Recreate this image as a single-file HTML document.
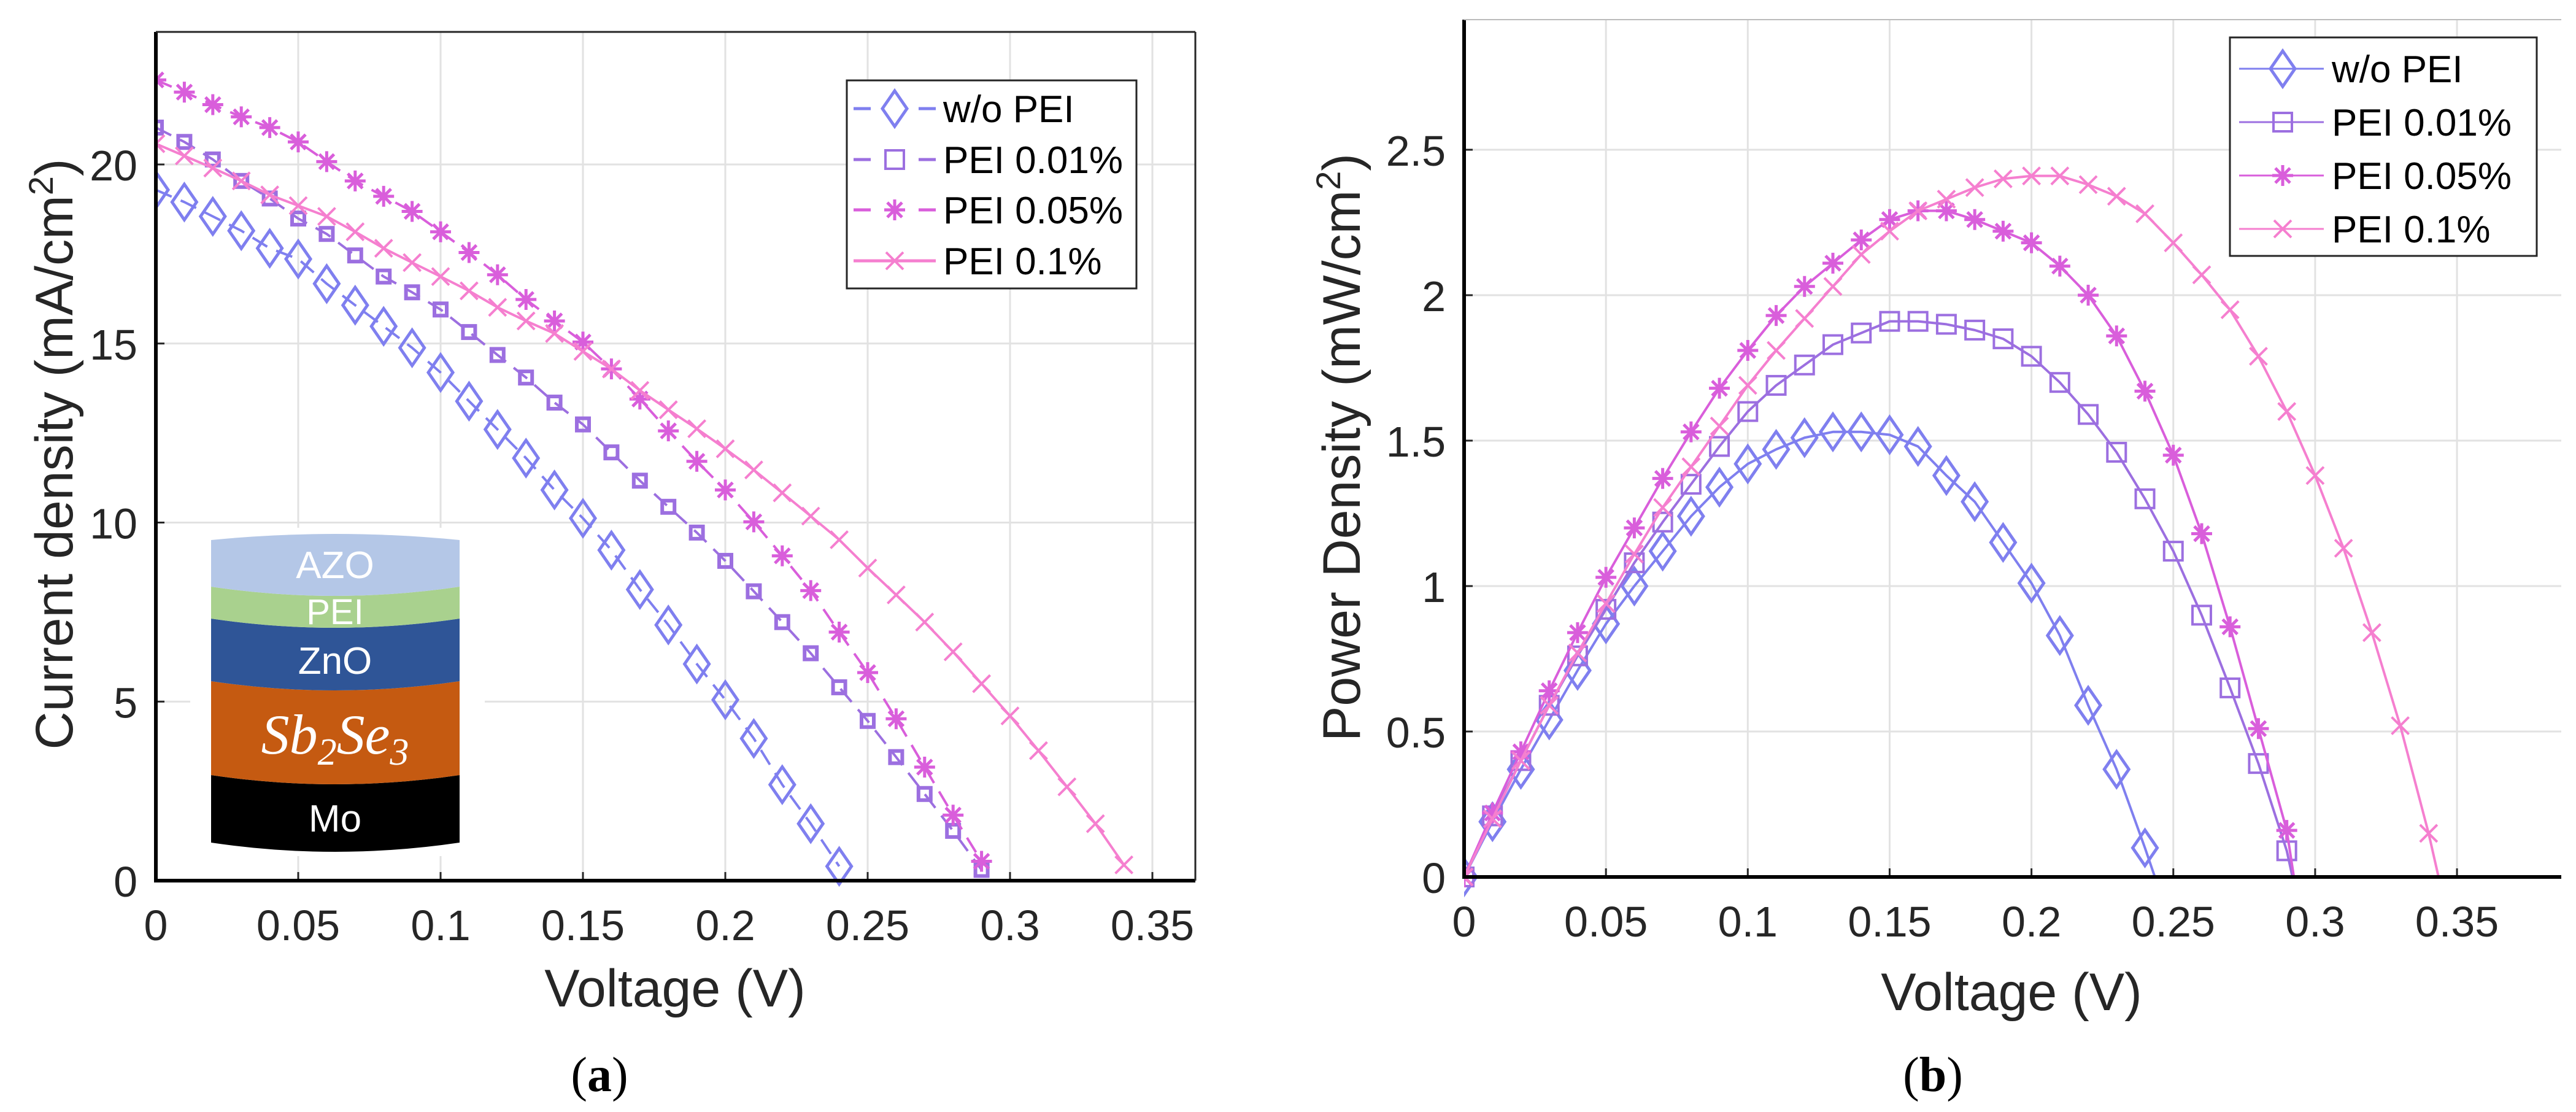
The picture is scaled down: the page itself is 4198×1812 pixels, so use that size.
<!DOCTYPE html>
<html><head><meta charset="utf-8"><style>
html,body{margin:0;padding:0;background:#fff}
svg{display:block;font-family:"Liberation Sans",Arial,sans-serif}
</style></head><body>
<svg id="fig" xmlns="http://www.w3.org/2000/svg" width="4198" height="1812" viewBox="0 0 4198 1812">
<rect width="4198" height="1812" fill="#fff"/>
<g id="pa"></g>
<g id="pb"></g>
</svg>
<script>
const voltA = [0,0.01,0.02,0.03,0.04,0.05,0.06,0.07,0.08,0.09,0.10,0.11,0.12,0.13,0.14,0.15,0.16,0.17,0.18,0.19,0.20,0.21,0.22,0.23,0.24,0.25,0.26,0.27,0.28,0.29,0.30,0.31,0.32,0.33,0.34];
const seriesNames = ["w/o PEI","PEI 0.01%","PEI 0.05%","PEI 0.1%"];
const jWo = [19.29,18.95,18.55,18.15,17.66,17.36,16.67,16.07,15.48,14.88,14.19,13.39,12.6,11.8,10.91,10.12,9.23,8.13,7.14,6.05,5.05,3.97,2.68,1.59,0.4];
const j001 = [21.03,20.63,20.14,19.54,19.05,18.49,18.06,17.46,16.87,16.43,15.95,15.32,14.68,14.05,13.35,12.74,11.96,11.17,10.44,9.72,8.93,8.08,7.22,6.35,5.4,4.46,3.45,2.42,1.39,0.3];
const j005 = [22.36,22.02,21.67,21.33,21.03,20.63,20.08,19.54,19.11,18.69,18.12,17.54,16.92,16.23,15.63,15.04,14.29,13.45,12.56,11.71,10.91,10.02,9.07,8.1,6.94,5.81,4.52,3.17,1.83,0.54];
const j01 = [20.58,20.24,19.9,19.54,19.15,18.85,18.55,18.12,17.66,17.26,16.87,16.47,16.01,15.63,15.28,14.78,14.29,13.69,13.15,12.62,12.06,11.47,10.83,10.18,9.52,8.73,7.98,7.22,6.39,5.5,4.6,3.63,2.62,1.59,0.44];
const pWo = [0,0.19,0.37,0.54,0.71,0.87,1.00,1.12,1.24,1.34,1.42,1.47,1.51,1.53,1.53,1.52,1.48,1.38,1.29,1.15,1.01,0.83,0.59,0.37,0.10];
const p001 = [0,0.21,0.40,0.59,0.76,0.92,1.08,1.22,1.35,1.48,1.60,1.69,1.76,1.83,1.87,1.91,1.91,1.90,1.88,1.85,1.79,1.70,1.59,1.46,1.30,1.12,0.90,0.65,0.39,0.09];
const p005 = [0,0.22,0.43,0.64,0.84,1.03,1.20,1.37,1.53,1.68,1.81,1.93,2.03,2.11,2.19,2.26,2.29,2.29,2.26,2.22,2.18,2.10,2.00,1.86,1.67,1.45,1.18,0.86,0.51,0.16];
const p01 = [0,0.20,0.40,0.59,0.77,0.94,1.11,1.27,1.41,1.55,1.69,1.81,1.92,2.03,2.14,2.22,2.29,2.33,2.37,2.40,2.41,2.41,2.38,2.34,2.28,2.18,2.07,1.95,1.79,1.60,1.38,1.13,0.84,0.52,0.15];
const vocB = [0.2435,0.292,0.2925,0.3435];
const xTicksA = ["0","0.05","0.1","0.15","0.2","0.25","0.3","0.35"];
const yTicksA = ["0","5","10","15","20"];
const yTicksB = ["0","0.5","1","1.5","2","2.5"];

const NS="http://www.w3.org/2000/svg";
function mk(parent,tag,attrs,text){const e=document.createElementNS(NS,tag);for(const k in attrs)e.setAttribute(k,attrs[k]);if(text!==undefined)e.textContent=text;parent.appendChild(e);return e;}
const colors=["#7f7fef","#9c6fe0","#d95edb","#f57fcf"];
const markers=["diamond","square","asterisk","cross"];

function marker(g,type,x,y,col,big){
  let m;
  if(type==="diamond"){const w=big?20:20,h=big?29:29;m=mk(g,"path",{d:`M${x},${y-h}L${x+w},${y}L${x},${y+h}L${x-w},${y}Z`,fill:"none",stroke:col,"stroke-width":5});}
  else if(type==="square"){const s=big?15:10;m=mk(g,"rect",{x:x-s,y:y-s,width:2*s,height:2*s,fill:"none",stroke:col,"stroke-width":big?4:6});}
  else if(type==="asterisk"){const r=17,d=12;m=mk(g,"path",{d:`M${x-r},${y}H${x+r}M${x},${y-r}V${y+r}M${x-d},${y-d}L${x+d},${y+d}M${x-d},${y+d}L${x+d},${y-d}`,stroke:col,"stroke-width":5,fill:"none"});}
  else {const d=14;m=mk(g,"path",{d:`M${x-d},${y-d}L${x+d},${y+d}M${x-d},${y+d}L${x+d},${y-d}`,stroke:col,"stroke-width":4,fill:"none"});}
  
  
}

function axesFrame(g,cfg){
  const {L,R,T,B,xTicks,xStep,yTicks,yStep,sx,sy,boxed}=cfg;
  xTicks.forEach((t,i)=>{const x=sx(i*xStep);
    if(i>0){const gl=mk(g,"line",{x1:x,x2:x,y1:T,y2:B,stroke:"#e2e2e2","stroke-width":3});}
    mk(g,"line",{x1:x,x2:x,y1:B,y2:B-14,stroke:"#262626","stroke-width":3});
    const tl=mk(g,"text",{x:x,y:B+97,"font-size":70,fill:"#262626","text-anchor":"middle"},t);
    });
  yTicks.forEach((t,i)=>{const y=sy(i*yStep);
    if(i>0){const gl=mk(g,"line",{x1:L,x2:R,y1:y,y2:y,stroke:"#e2e2e2","stroke-width":3});}
    mk(g,"line",{x1:L,x2:L+14,y1:y,y2:y,stroke:"#262626","stroke-width":3});
    const tl=mk(g,"text",{x:L-30,y:y+26,"font-size":70,fill:"#262626","text-anchor":"end"},t);
    });
}

function drawPanel(gid,cfg){
  const g=document.getElementById(gid);
  const {L,R,T,B}=cfg;
  const grid=mk(g,"g",{});
  axesFrame(grid,cfg);
  if(cfg.inset) cfg.inset(g);
  const clip=mk(g,"clipPath",{id:gid+"clip"});mk(clip,"rect",{x:L,y:T-40,width:R-L+40,height:B-T+80});
  cfg.series.forEach((s,k)=>{
    const sg=mk(g,"g",{"clip-path":`url(#${gid}clip)`});
    
    
    const pts=s.map((v,i)=>[cfg.sx(voltA[i]),cfg.sy(v)]);
    if(cfg.vocs) pts.push([cfg.sx(cfg.vocs[k]),cfg.sy(0)]);
    const pl=mk(sg,"polyline",{points:pts.map(p=>p.join(",")).join(" "),fill:"none",stroke:colors[k],"stroke-width":cfg.lw,"stroke-dasharray":cfg.dash[k]||"none","stroke-linejoin":"round"});
    
    s.forEach((v,i)=>marker(sg,markers[k],cfg.sx(voltA[i]),cfg.sy(v),colors[k],cfg.big));
  });
  // axes lines
  mk(g,"line",{x1:L,x2:L,y1:T,y2:B+3,stroke:"#000","stroke-width":6});
  mk(g,"line",{x1:L-3,x2:R,y1:B,y2:B,stroke:"#000","stroke-width":6});
  mk(g,"line",{x1:L,x2:R,y1:T,y2:T,stroke:cfg.boxed?"#262626":"#bbb","stroke-width":cfg.boxed?3:2});
  if(cfg.boxed) mk(g,"line",{x1:R,x2:R,y1:T,y2:B,stroke:"#262626","stroke-width":3});
  // legend
  const lg=mk(g,"g",{});
  const lb=cfg.legend;
  mk(lg,"rect",{x:lb.x,y:lb.y,width:lb.w,height:lb.h,fill:"#fff",stroke:"#262626","stroke-width":3});
  seriesNames.forEach((n,k)=>{const y=lb.rows[k];
    const e=mk(lg,"g",{});
    mk(e,"line",{x1:lb.lx1,x2:lb.lx2,y1:y,y2:y,stroke:colors[k],"stroke-width":lb.lw,"stroke-dasharray":cfg.dash[k]?"28,78":"none","stroke-dashoffset":cfg.dash[k]?"0":"0"});
    marker(e,markers[k],lb.mx,y,colors[k],true);
    mk(e,"text",{x:lb.tx,y:y+22,"font-size":62,fill:"#000"},n);
  });
  // axis labels
  const xl=mk(g,"text",{x:cfg.xlab[0],y:cfg.xlab[1],"font-size":86,fill:"#262626","text-anchor":"middle"},"Voltage (V)");
  
  const yl=mk(g,"text",{transform:`translate(${cfg.ylab[0]},${cfg.ylab[1]}) rotate(-90)`,"font-size":86,fill:"#262626","text-anchor":"middle"});
  yl.innerHTML=cfg.ytitle;
  
  const cap=mk(g,"text",{x:cfg.cap[0],y:cfg.cap[1],"font-size":80,fill:"#000","text-anchor":"middle","font-family":"Liberation Serif, serif"});
  cap.innerHTML=cfg.capText;
  
}

function inset(g){
  const ig=mk(g,"g",{});
  mk(ig,"rect",{x:310,y:860,width:480,height:535,fill:"#fff"});
  const x0=344,x1=749,cx=546;
  const layers=[["Mo",1273,1383,"#000"],["Sb2Se3",1120,1273,"#c55a11"],["ZnO",1018,1120,"#2f5597"],["PEI",966,1018,"#a9d18e"],["AZO",874,966,"#b4c7e7"]];
  layers.forEach(([n,t,b,c])=>{
    const top=n==="AZO"?`M${x0},${t+6}Q${cx},${t-14} ${x1},${t+6}`:`M${x0},${t-10}Q${cx},${t+20} ${x1},${t-10}`;
    const p=mk(ig,"path",{d:`${top}L${x1},${b-10}Q${cx},${b+20} ${x0},${b-10}Z`,fill:c});
    
  });
  const tt=(txt,y,sz)=>{const e=mk(ig,"text",{x:cx,y:y,"font-size":sz,fill:"#fff","text-anchor":"middle"},txt);return e;};
  tt("AZO",942,62);tt("PEI",1017,58);tt("ZnO",1098,62);tt("Mo",1355,62);
  const s=mk(ig,"text",{x:cx,y:1228,"font-size":92,fill:"#fff","text-anchor":"middle","font-family":"Liberation Serif, serif","font-style":"italic"});
  s.innerHTML='Sb<tspan font-size="62" dy="18">2</tspan><tspan dy="-18">Se</tspan><tspan font-size="62" dy="18">3</tspan>';
  
}

drawPanel("pa",{L:254,R:1948,T:52,B:1435,
  sx:v=>254+v*4640, sy:j=>1435-j*58.35,
  xTicks:xTicksA,xStep:0.05,yTicks:yTicksA,yStep:5,boxed:true,
  series:[jWo,j001,j005,j01],dash:["28,16","28,16","28,16",null],lw:4,big:false,
  inset:inset,
  legend:{x:1380,y:131,w:472,h:339,rows:[177,260,342,425],lx1:1391,lx2:1525,mx:1458,tx:1537,lw:5},
  xlab:[1100,1640],ylab:[118,740],
  ytitle:'Current density (mA/cm<tspan font-size="56" dy="-32">2</tspan><tspan dy="32">)</tspan>',
  cap:[977,1778],capText:'(<tspan font-weight="bold">a</tspan>)'});

drawPanel("pb",{L:2386,R:4174,T:32,B:1429,
  sx:v=>2386+v*4623, sy:p=>1429-p*474,
  xTicks:xTicksA,xStep:0.05,yTicks:yTicksB,yStep:0.5,boxed:false,
  series:[pWo,p001,p005,p01],dash:[null,null,null,null],lw:4,big:true,vocs:vocB,
  legend:{x:3634,y:61,w:500,h:356,rows:[112,199,286,373],lx1:3649,lx2:3787,mx:3720,tx:3800,lw:3},
  xlab:[3278,1646],ylab:[2216,729],
  ytitle:'Power Density (mW/cm<tspan font-size="56" dy="-32">2</tspan><tspan dy="32">)</tspan>',
  cap:[3150,1778],capText:'(<tspan font-weight="bold">b</tspan>)'});
</script>
</body></html>
